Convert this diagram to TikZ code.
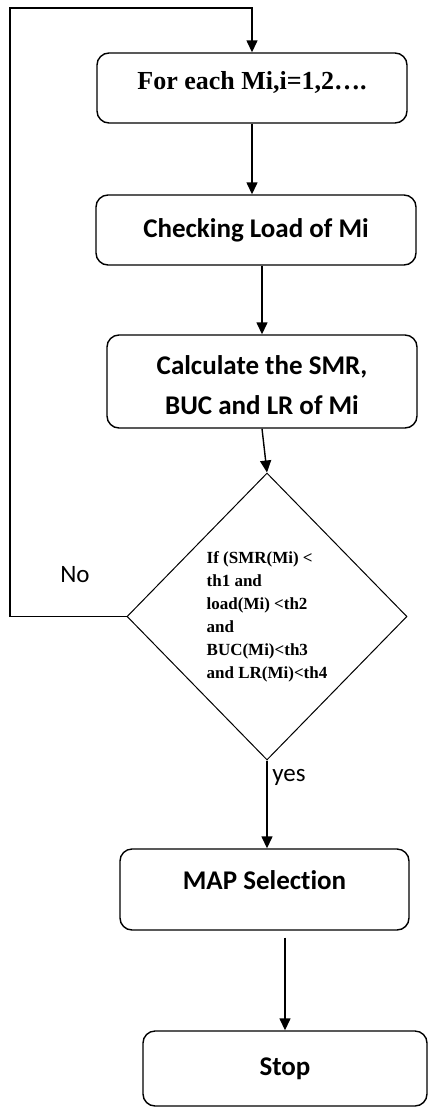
\documentclass[tikz,border=0pt]{standalone}
\usepackage{fontspec}
\setmainfont{Liberation Serif}
\newfontfamily\calibri[Ligatures=NoCommon]{Carlito}
\usetikzlibrary{shapes.geometric,arrows.meta}
\tikzset{
	procbox/.style={draw,line width=1.4pt,rounded corners=12pt,align=center,inner sep=0pt},
	calbox/.style={procbox,font=\calibri\bfseries\fontsize{27}{40}\selectfont},
	decision/.style={draw,diamond,line width=1pt,inner sep=0pt,align=left,
		font=\bfseries\fontsize{17}{23}\selectfont},
	flowarrow/.style={line width=1.4pt,-{Triangle[length=12pt,width=11pt]}},
	branch/.style={font=\calibri\fontsize{25}{30}\selectfont}
}

\begin{document}
\begin{tikzpicture}[x=1pt,y=-1pt]
\useasboundingbox (0,0) rectangle (429,1109);

%process boxes
\node[procbox,minimum width=310pt,minimum height=70pt,text depth=16pt,
	font=\bfseries\fontsize{26}{30}\selectfont] (each) at (252,88) {For each Mi,i=1,2….};
\node[calbox,minimum width=320pt,minimum height=70pt] (load) at (256,230) {Checking Load of Mi};
\node[calbox,minimum width=310pt,minimum height=93pt,text height=67pt] (calc) at (262,381.5)
	{Calculate the SMR,\\BUC and LR of Mi};

%decision
\node[decision,minimum width=280pt,minimum height=287pt] (cond) at (267,616.5)
	{If (SMR(Mi) <\\th1 and\\load(Mi) <th2\\and\\BUC(Mi)<th3\\and LR(Mi)<th4};

\node[calbox,minimum width=289pt,minimum height=81pt,text depth=18pt] (map) at (264.5,889.5) {MAP Selection};
\node[calbox,minimum width=284pt,minimum height=75pt] (stop) at (285,1068.5) {Stop};

%loop back
\coordinate (topturn) at (10,8);
\coordinate (noturn) at (cond.west -| topturn);
\draw[flowarrow] (cond.west) -- (noturn) -- (topturn) -- (topturn -| each.north) -- (each.north);
\node[branch] (no) at (75,575) {No};

%main flow
\draw[flowarrow] (each.south) -- (each.south |- load.north);
\draw[flowarrow] (calc.north |- load.south) -- (calc.north);
\draw[flowarrow] (calc.south) -- (cond.north);
\draw[flowarrow] (cond.south) -- (cond.south |- map.north);
\node[branch] (yes) at (289,777) {yes};
\draw[flowarrow,shorten <=7pt] (stop.north |- map.south) -- (stop.north);

\end{tikzpicture}
\end{document}
